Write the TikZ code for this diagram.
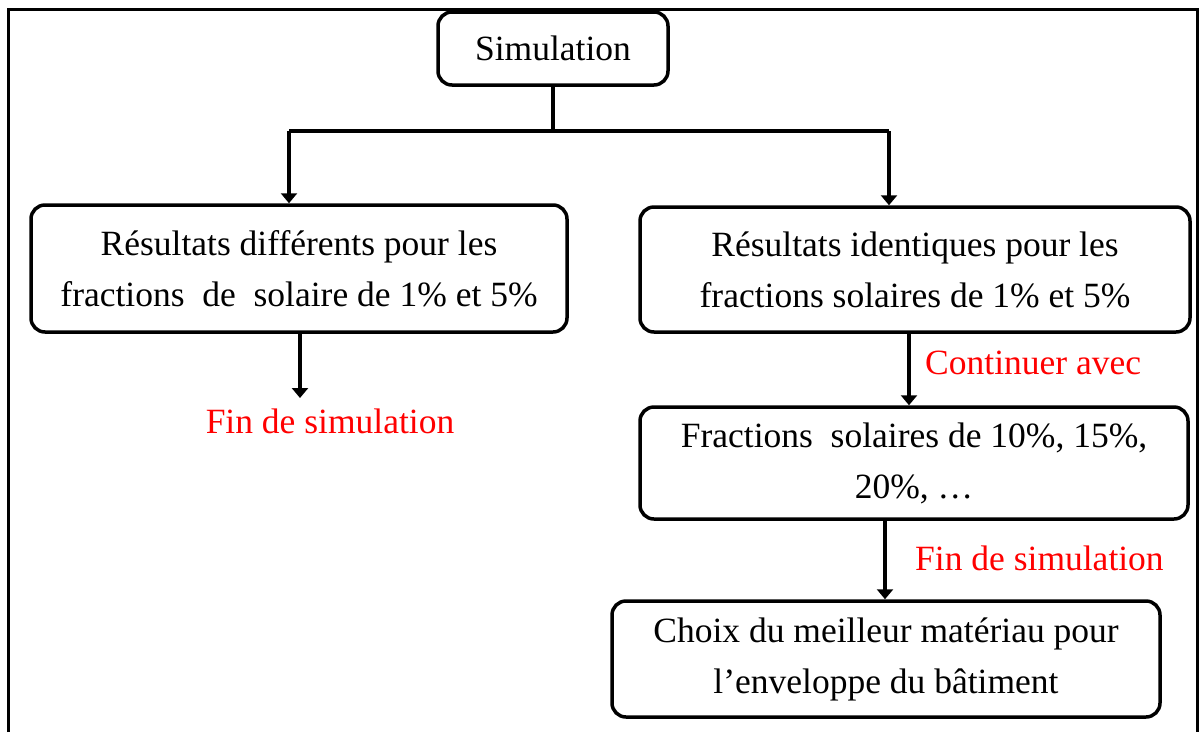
\documentclass[tikz,border=0pt]{standalone}
\usepackage{fontspec}
\setmainfont{Liberation Serif}
\usetikzlibrary{arrows.meta}
\begin{document}
\begin{tikzpicture}[x=1pt,y=-1pt,
  box/.style={draw, line width=3.5pt, rounded corners=14pt, align=center,
    font=\fontsize{35.5}{51}\selectfont, inner sep=0pt},
  redlbl/.style={text=red, font=\fontsize{35.5}{40}\selectfont, inner sep=0pt},
  conn/.style={line width=3.8pt},
  arr/.style={conn, -{Triangle[length=10pt,width=16pt]}}]
\useasboundingbox (0,0) rectangle (1200,732);
\fill[white] (0,0) rectangle (1200,732);
\draw[line width=3pt] (8,732) -- (8,9) -- (1197,9) -- (1197,732);

\node[box, minimum width=230pt, minimum height=73pt] (sim) at (553,48.5) {Simulation};
\node[box, minimum width=536pt, minimum height=127pt] (l1) at (299,268.5)
  {Résultats différents pour les\\fractions\ \ de\ \ solaire de 1\% et 5\%};
\node[box, minimum width=550pt, minimum height=125pt] (r1) at (915,269.5)
  {Résultats identiques pour les\\fractions solaires de 1\% et 5\%};
\node[box, minimum width=548pt, minimum height=112pt] (r2) at (914,463)
  {Fractions\ \ solaires de 10\%, 15\%,\\20\%, …};
\node[box, minimum width=548pt, minimum height=116pt] (r3) at (886,659)
  {Choix du meilleur matériau pour\\l’enveloppe du bâtiment};

\node[redlbl] (fin1) at (330,421) {Fin de simulation};
\node[redlbl, anchor=west] (cont) at (925,363) {Continuer avec};
\node[redlbl, anchor=west] (fin2) at (915,558) {Fin de simulation};

\coordinate (jl) at (289,131);
\coordinate (jr) at (889,131);
\coordinate (jm) at (sim.south |- jl);
\coordinate (e1) at (300,398);
\coordinate (a2) at (909,0);
\coordinate (a3) at (885,0);

\draw[conn] (sim.south) -- (jm);
\draw[conn] (jl) -- (jr);
\draw[arr] (jl) -- (jl |- l1.north);
\draw[arr] (jr) -- (jr |- r1.north);
\draw[arr] (e1 |- l1.south) -- (e1);
\draw[arr] (a2 |- r1.south) -- (a2 |- r2.north);
\draw[arr] (a3 |- r2.south) -- (a3 |- r3.north);
\end{tikzpicture}
\end{document}
